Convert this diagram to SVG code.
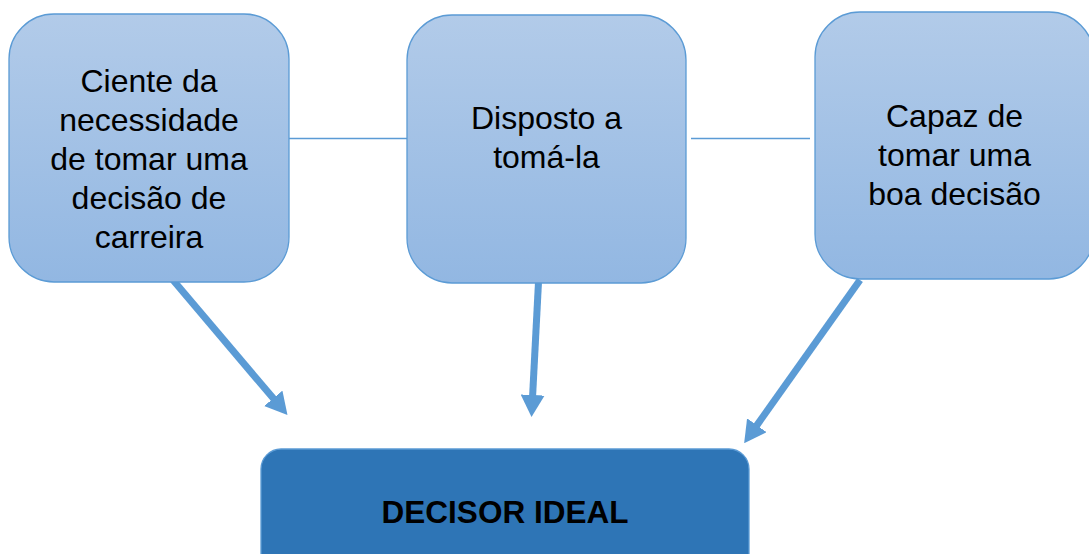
<svg xmlns="http://www.w3.org/2000/svg" width="1089" height="554" viewBox="0 0 1089 554">
<style>
.box{stroke:#5b9bd5;stroke-width:1.3;fill:url(#g)}
.main{fill:#2e75b6;stroke:#5b9bd5;stroke-width:1.3}
.t{font-family:"Liberation Sans",Arial,sans-serif;font-size:32px;fill:#000;text-anchor:middle}
.tb{font-family:"Liberation Sans",Arial,sans-serif;font-size:31.5px;font-weight:bold;fill:#000;text-anchor:middle}
.ln{stroke:#5b9bd5;stroke-width:1.5;fill:none}
.ar{stroke:#5b9bd5;stroke-width:7;fill:none;marker-end:url(#ah)}
</style>
<defs>
<linearGradient id="g" x1="0" y1="0" x2="0" y2="1">
<stop offset="0" stop-color="#b2cbe9"/>
<stop offset="1" stop-color="#92b7e2"/>
</linearGradient>
<marker id="ah" markerUnits="userSpaceOnUse" viewBox="0 0 22 24" markerWidth="22" markerHeight="24" refX="1" refY="12" orient="auto">
<path d="M0,0 L22,12 L0,24 z" fill="#5b9bd5"/>
</marker>
</defs>
<g id="connectors">
<line class="ln" x1="289" y1="138.5" x2="407" y2="138.5"/>
<line class="ln" x1="691" y1="138.5" x2="810" y2="138.5"/>
<line class="ar" x1="173" y1="280" x2="273.9" y2="399.1"/>
<line class="ar" x1="538.5" y1="282" x2="532.6" y2="396"/>
<line class="ar" x1="860" y1="280" x2="756.3" y2="426.1"/>
</g>
<g id="node1">
<rect class="box" x="9" y="14" width="280" height="268" rx="45"/>
<text class="t" x="149" y="92">Ciente da</text>
<text class="t" x="149" y="131">necessidade</text>
<text class="t" x="149" y="170">de tomar uma</text>
<text class="t" x="149" y="209">decisão de</text>
<text class="t" x="149" y="248">carreira</text>
</g>
<g id="node2">
<rect class="box" x="407" y="15" width="279" height="268" rx="45"/>
<text class="t" x="546.5" y="129">Disposto a</text>
<text class="t" x="546.5" y="168">tomá-la</text>
</g>
<g id="node3">
<rect class="box" x="815" y="12" width="279" height="267" rx="45"/>
<text class="t" x="954.5" y="127">Capaz de</text>
<text class="t" x="954.5" y="166">tomar uma</text>
<text class="t" x="954.5" y="205">boa decisão</text>
</g>
<g id="node4">
<rect class="main" x="261" y="449" width="488" height="130" rx="20"/>
<text class="tb" x="505" y="523">DECISOR IDEAL</text>
</g>
</svg>
